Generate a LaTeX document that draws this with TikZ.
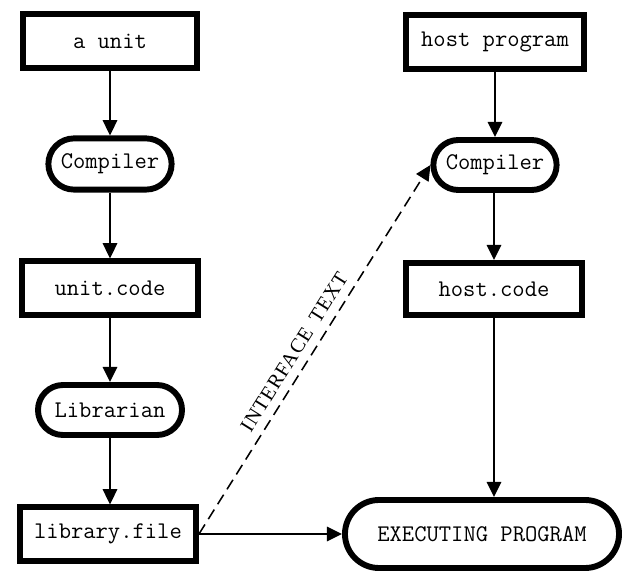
\documentclass[tikz,border=0pt]{standalone}
\usepackage{fontspec}
\newfontfamily\labelfont[LetterSpace=5]{Liberation Serif}
\usetikzlibrary{arrows.meta}

\begin{document}
\begin{tikzpicture}[x=0.025cm, y=-0.025cm,
  every node/.style={font=\ttfamily\fontsize{17}{20}\selectfont},
  every path/.style={line width=1.4pt},
  box/.style={draw, rectangle, line width=4.2pt, minimum height=1.33cm, inner sep=0pt},
  oval/.style={draw, rectangle, rounded corners=0.64cm, line width=4.2pt, minimum height=1.28cm, minimum width=3.08cm, inner sep=0pt},
  flow/.style={-{Triangle[width=0.36cm,length=0.38cm]}}]
\useasboundingbox (0,0) rectangle (626,571);

% left column: the unit
\node[box, minimum width=4.33cm] (unit) at (110,41) {a unit};
\node[oval] (comp1) at (110,164) {Compiler};
\node[box, minimum width=4.38cm] (ucode) at (110,288) {unit.code};
\node[oval, minimum width=3.6cm, minimum height=1.25cm, rounded corners=0.625cm] (lib) at (110,410) {Librarian};
\node[box, minimum width=4.4cm] (lfile) at (108,534) {library.file};

\draw[flow] (unit) -- (comp1);
\draw[flow] (comp1) -- (ucode);
\draw[flow] (ucode) -- (lib);
\draw[flow] (lib) -- (lib |- lfile.north);

% right column: the host
\node[box, minimum width=4.45cm] (host) at (495,42) {host program};
\node[oval, minimum height=1.25cm, rounded corners=0.625cm] (comp2) at (495,165) {Compiler};
\node[box, minimum width=4.4cm, minimum height=1.3cm] (hcode) at (494,289) {host.code};

\draw[flow] (host) -- (host |- comp2.north);
\draw[flow] (comp2.south -| hcode) -- (hcode);

\node[draw, rectangle, line width=4.2pt, rounded corners=0.85cm, minimum width=6.85cm, minimum height=1.7cm, inner sep=0pt] (exec) at (482,534) {EXECUTING PROGRAM};

\draw[flow] (hcode) -- (hcode |- exec.north);
\draw[flow] (lfile.east) -- (exec.west);

% interface text
\draw[flow, dash pattern=on 8pt off 4.5pt, line width=1.1pt] (lfile.east) -- node[sloped, pos=0.47, above=6pt, inner sep=0pt, font=\labelfont\fontsize{14.5}{16}\selectfont] {INTERFACE\enspace TEXT} (comp2.west);

\end{tikzpicture}
\end{document}
